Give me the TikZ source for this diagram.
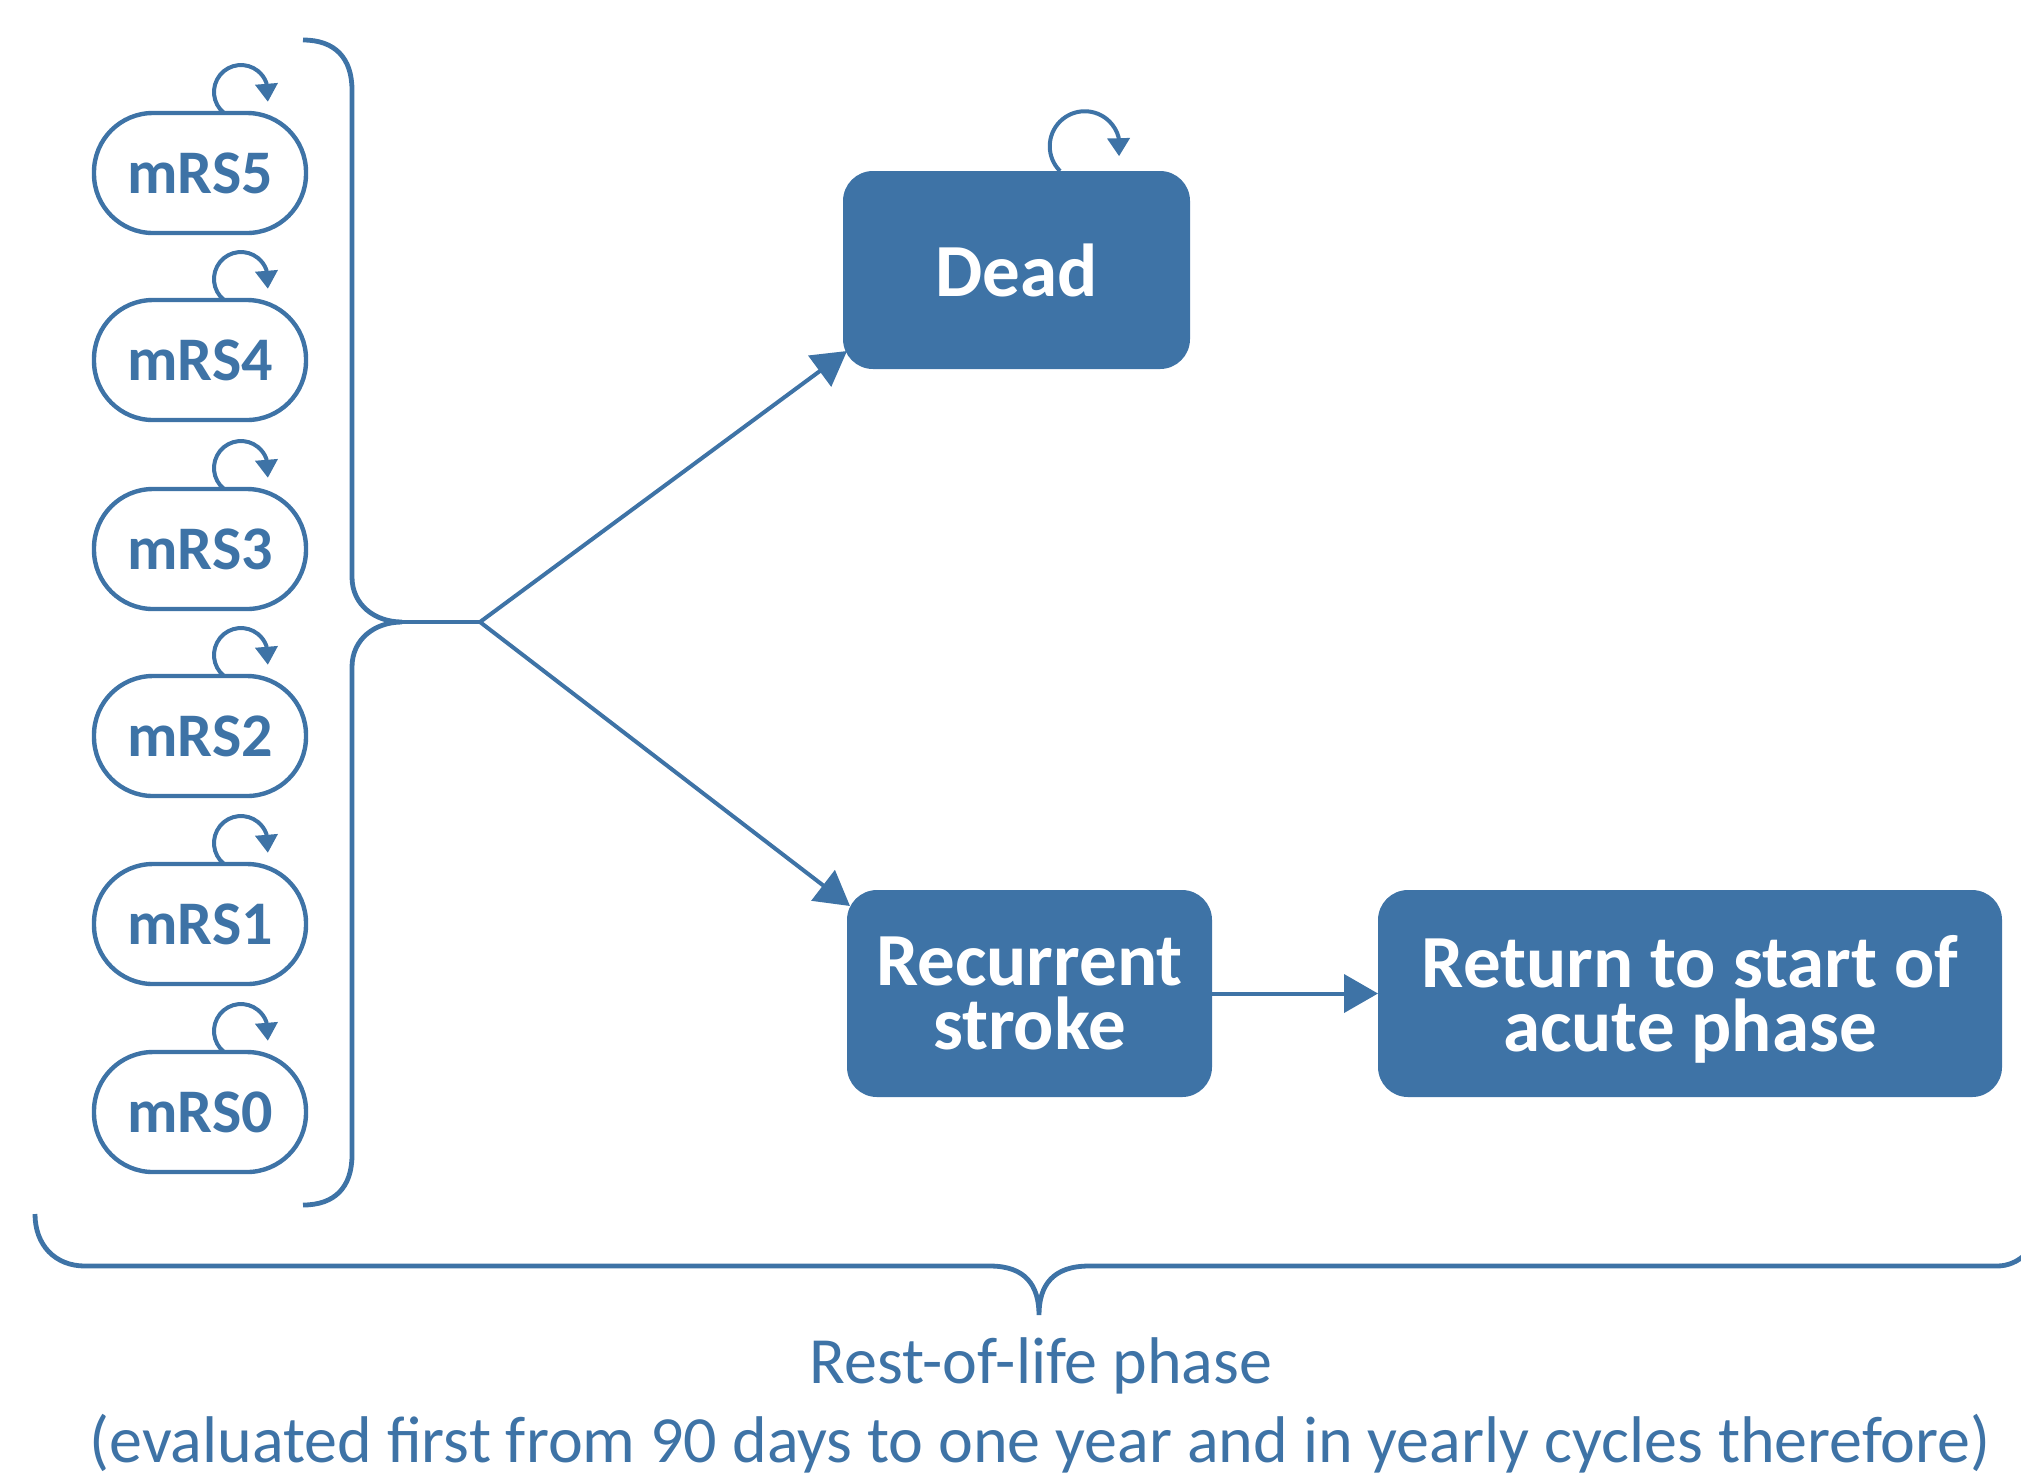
\documentclass[tikz,border=0pt]{standalone}
\usepackage{fontspec}
\setmainfont{Carlito}
\usetikzlibrary{arrows.meta,calc}
\definecolor{sblue}{RGB}{62,115,166}
\begin{document}
\begin{tikzpicture}[x=0.5pt,y=-0.5pt,
  mrs/.style={draw=sblue, line width=2.2pt, rounded corners=29.5pt,
    minimum width=106pt, minimum height=60pt, inner sep=0pt, outer sep=0pt,
    text=sblue, font=\fontsize{31}{31}\selectfont\bfseries},
  box/.style={fill=sblue, draw=none, rounded corners=15pt, inner sep=0pt,
    outer sep=0pt, text=white, align=center, text depth=0pt,
    font=\fontsize{37.5}{32}\selectfont\bfseries},
  link/.style={draw=sblue, line width=2pt},
  bigarrow/.style={link, -{Triangle[length=17pt,width=19pt]}},
  selfloop/.style={link, -{Triangle[length=9pt,width=11pt]}},
  bracepath/.style={draw=sblue, line width=2.4pt},
  lbl/.style={text=sblue, inner sep=0pt, font=\fontsize{33}{42}\selectfont}]
\useasboundingbox (0,0) rectangle (2021,1479);

% mRS states
\node[mrs] (m5) at (200,173) {mRS5};
\node[mrs] (m4) at (200,360) {mRS4};
\node[mrs] (m3) at (200,549) {mRS3};
\node[mrs] (m2) at (200,736) {mRS2};
\node[mrs] (m1) at (200,924) {mRS1};
\node[mrs] (m0) at (200,1112) {mRS0};
\foreach \i in {0,...,5}
  \draw[selfloop] ([xshift=12pt]m\i.north) arc[start angle=231,end angle=20,radius=13.5pt] -- ++(1.5,19);

% main states
\node[box, minimum width=173.5pt, minimum height=99pt] (dead) at (1016.5,270) {Dead};
\node[box, minimum width=182.5pt, minimum height=103.5pt] (rec) at (1029.5,993.5) {Recurrent\\stroke};
\node[box, minimum width=312pt, minimum height=103.5pt] (ret) at (1690,993.5) {Return to start of\\acute phase};
\draw[selfloop] ([xshift=21.75pt]dead.north) arc[start angle=225,end angle=15,radius=17.5pt] -- ++(0.5,19);

% left brace
\coordinate (tip) at (402,622);
\coordinate (fork) at (480,622);
\draw[bracepath] (303,40) .. controls (335,40) and (352,58) .. (352,90) -- (352,577)
  .. controls (352,605) and (375,622) .. (tip)
  .. controls (375,622) and (352,639) .. (352,667) -- (352,1155)
  .. controls (352,1187) and (335,1205) .. (303,1205);

% connectors
\draw[link] (tip) -- (fork);
\draw[bigarrow] (fork) -- ($(dead.south west)+(4,-18)$);
\draw[bigarrow] (fork) -- ($(rec.north west)+(3,16)$);
\draw[bigarrow] (rec.east) -- (ret.west);

% bottom brace
\draw[bracepath] (35,1214) .. controls (35,1245) and (55,1266) .. (85,1266) -- (990,1266)
  .. controls (1025,1266) and (1039,1285) .. (1039,1315)
  .. controls (1039,1285) and (1053,1266) .. (1089,1266) -- (1997,1266)
  .. controls (2019,1266) and (2037,1248) .. (2037,1226);

% labels
\node[lbl, anchor=base] (ph1) at (1041,1383) {Rest-of-life phase};
\node[lbl, anchor=base] (ph2) at (1040,1462) {(evaluated first from 90 days to one year and in yearly cycles therefore)};
\end{tikzpicture}
\end{document}
